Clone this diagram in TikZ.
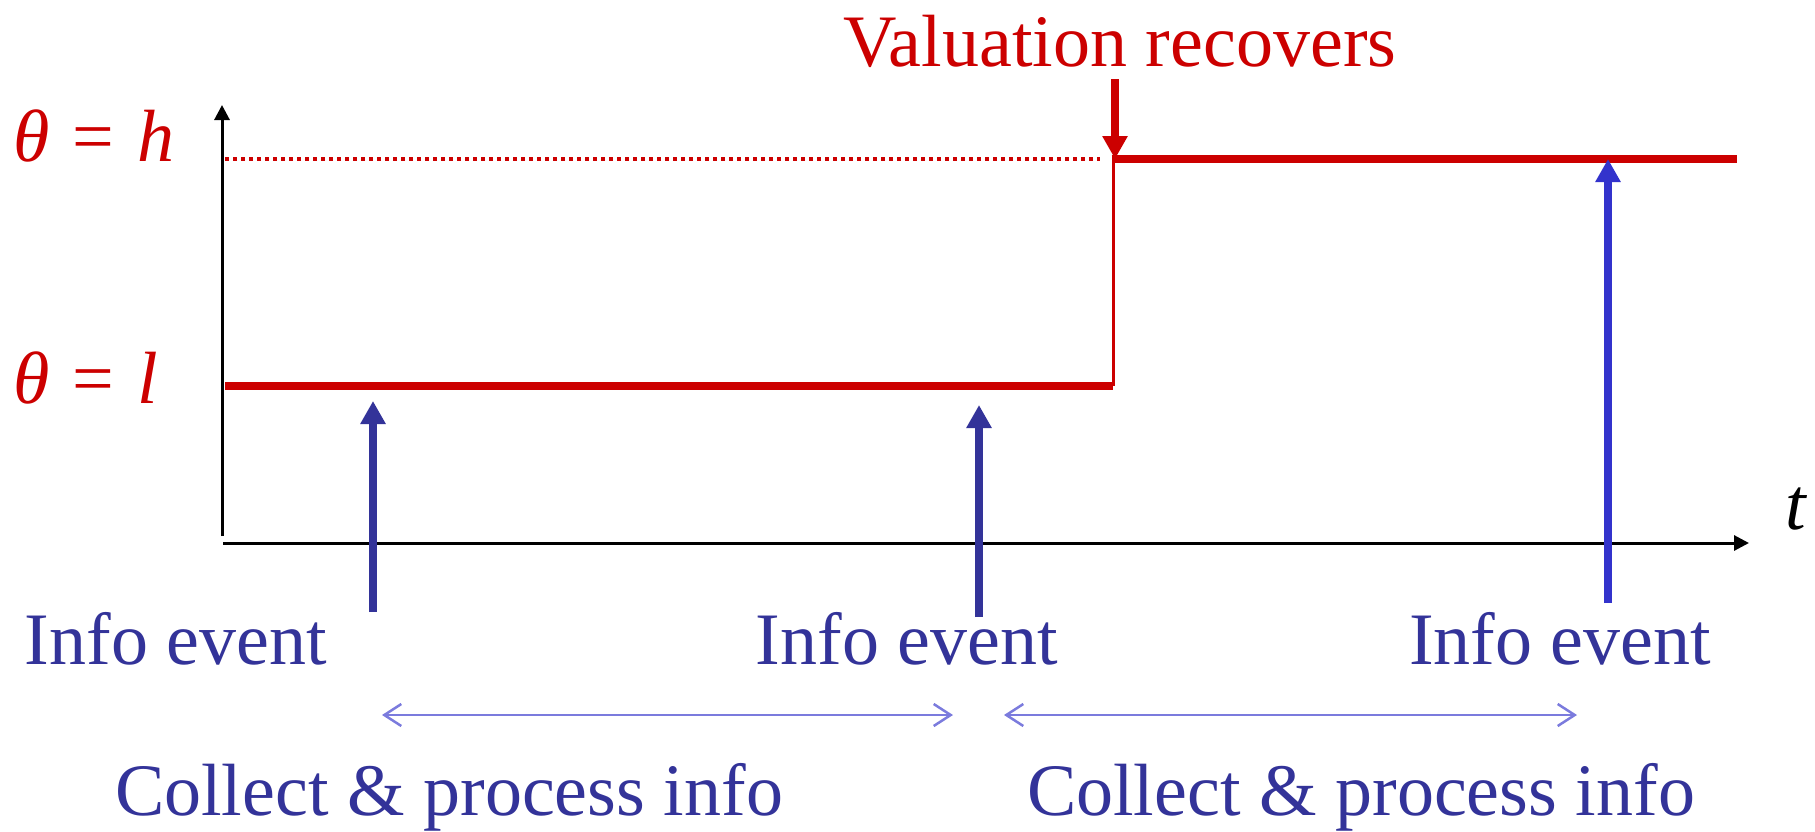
\documentclass[tikz,border=0pt]{standalone}
\usepackage{fontspec}
\setmainfont{Liberation Serif}
\usetikzlibrary{arrows.meta}
\definecolor{valred}{HTML}{CC0000}
\definecolor{infoblue}{HTML}{333399}
\definecolor{brightblue}{HTML}{3333CC}
\definecolor{spanblue}{HTML}{7B7BDD}
\tikzset{
  lbl/.style={inner sep=0pt, font=\fontsize{74}{80}\selectfont},
  axis/.style={line width=3pt, black, -{Triangle[width=15pt,length=15pt]}},
  level/.style={line width=8pt, valred},
  event/.style={line width=8pt, infoblue, -{Triangle[width=24pt,length=23pt]}},
  span/.style={line width=2.5pt, spanblue, {Straight Barb[width=22pt,length=17pt,line width=2.5pt]}-{Straight Barb[width=22pt,length=17pt,line width=2.5pt]}},
}
\begin{document}
\begin{tikzpicture}[x=1pt,y=-1pt]
\useasboundingbox (0,0) rectangle (1815,831);

% axes
\coordinate (yb) at (222,536);
\coordinate (yt) at (222,105);
\coordinate (xl) at (223,543);
\coordinate (xr) at (1749,543);
\draw[axis] (yb) -- (yt);
\draw[axis] (xl) -- (xr);
\node[lbl, anchor=base west] (tlab) at (1785,529) {\textit{t}};

% valuation levels
\node[lbl, anchor=base west, text=valred] (hlab) at (13,161) {\textit{θ}\hspace{4pt} = \hspace{5pt}\textit{h}};
\node[lbl, anchor=base west, text=valred] (llab) at (13,403) {\textit{θ}\hspace{4pt} = \hspace{5pt}\textit{l}};
\coordinate (h0) at (225,159);
\coordinate (hd) at (1100,159);
\coordinate (hj) at (1113,159);
\coordinate (h1) at (1737,159);
\coordinate (l0) at (225,386);
\coordinate (lj) at (1113,386);
\draw[valred, line width=3.5pt, dash pattern=on 4pt off 4pt] (h0) -- (hd);
\draw[level] (l0) -- (lj);
\draw[valred, line width=3pt] (lj) -- (hj);
\draw[level] ([xshift=-1.5pt]hj) -- (h1);

% recovery marker
\node[lbl, anchor=base, text=valred] (rec) at (1120,66) {Valuation recovers};
\coordinate (r0) at (1115,79);
\coordinate (r1) at (1115,159);
\draw[line width=8pt, valred, -{Triangle[width=24pt,length=23pt]}] (r0) -- (r1);

% information events
\coordinate (e1b) at (373,612);
\coordinate (e1t) at (373,401);
\coordinate (e2b) at (979,617);
\coordinate (e2t) at (979,405);
\coordinate (e3b) at (1608,603);
\coordinate (e3t) at (1608,159);
\draw[event] (e1b) -- (e1t);
\draw[event] (e2b) -- (e2t);
\draw[event, brightblue] (e3b) -- (e3t);
\node[lbl, anchor=base, text=infoblue] (i1) at (176,664) {Info event};
\node[lbl, anchor=base, text=infoblue] (i2) at (907,664) {Info event};
\node[lbl, anchor=base, text=infoblue] (i3) at (1560,664) {Info event};

% processing intervals
\coordinate (s1a) at (382,715);
\coordinate (s1b) at (953,715);
\coordinate (s2a) at (1004,715);
\coordinate (s2b) at (1577,715);
\draw[span] (s1a) -- (s1b);
\draw[span] (s2a) -- (s2b);
\node[lbl, anchor=base, text=infoblue] (c1) at (449,815) {Collect \& process info};
\node[lbl, anchor=base, text=infoblue] (c2) at (1361,815) {Collect \& process info};
\end{tikzpicture}
\end{document}
